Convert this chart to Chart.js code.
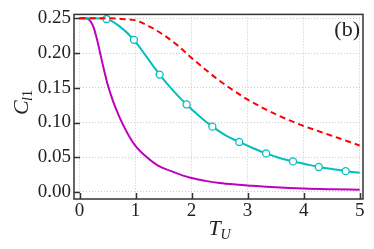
<!DOCTYPE html>
<html>
<head>
<meta charset="utf-8">
<script src="https://cdn.jsdelivr.net/npm/chart.js@4.4.1/dist/chart.umd.min.js"></script>
<style>
  html, body { margin: 0; padding: 0; background: #fff; }
  #wrap { width: 374px; height: 249px; }
</style>
</head>
<body>
<div id="wrap"><canvas id="chart"></canvas></div>
<script>
// values
const xTicks = [0, 1, 2, 3, 4, 5];
const yTicks = [0.00, 0.05, 0.10, 0.15, 0.20, 0.25];

const redX = [0, 0.5, 0.75, 1.0, 1.25, 1.5, 1.75, 2.0, 2.25, 2.5, 2.75, 3.0, 3.25, 3.5, 3.75, 4.0, 4.25, 4.5, 4.75, 5.0];
const redY = [0.25, 0.25, 0.249, 0.247, 0.238, 0.226, 0.211, 0.193, 0.176, 0.160, 0.146, 0.133, 0.122, 0.112, 0.103, 0.095, 0.088, 0.081, 0.074, 0.067];

const cyanX = [0, 0.25, 0.48, 0.72, 0.97, 1.2, 1.43, 1.67, 1.91, 2.14, 2.37, 2.6, 2.85, 3.1, 3.33, 3.57, 3.81, 4.04, 4.27, 4.5, 4.75, 5.0];
const cyanY = [0.25, 0.25, 0.249, 0.238, 0.219, 0.194, 0.169, 0.146, 0.126, 0.109, 0.094, 0.082, 0.072, 0.063, 0.0555, 0.049, 0.044, 0.040, 0.036, 0.033, 0.030, 0.0277];

const markX = [0.48, 0.97, 1.43, 1.91, 2.37, 2.85, 3.33, 3.81, 4.27, 4.75];
const markY = [0.249, 0.219, 0.169, 0.126, 0.094, 0.072, 0.0555, 0.044, 0.036, 0.030];

const magX = [0, 0.1, 0.15, 0.2, 0.25, 0.3, 0.35, 0.4, 0.45, 0.5, 0.6, 0.7, 0.8, 0.9, 1.0, 1.2, 1.4, 1.6, 1.8, 2.0, 2.25, 2.5, 2.75, 3.0, 3.5, 4.0, 4.5, 5.0];
const magY = [0.25, 0.25, 0.249, 0.245, 0.237, 0.223, 0.206, 0.188, 0.171, 0.155, 0.130, 0.110, 0.093, 0.078, 0.066, 0.050, 0.038, 0.031, 0.025, 0.020, 0.016, 0.013, 0.011, 0.0095, 0.0068, 0.005, 0.004, 0.0033];

const pts = (xs, ys) => xs.map((x, i) => ({ x: x, y: ys[i] }));

const serif = "'Liberation Serif', 'DejaVu Serif', serif";

// frame, inward ticks, axis titles and panel label
const decor = {
    id: "decor",
    afterDraw(chart) {
        const ctx = chart.ctx;
        const a = chart.chartArea;
        const xs = chart.scales.x, ys = chart.scales.y;
        ctx.save();
        ctx.strokeStyle = "#333";
        ctx.lineWidth = 1.5;
        // ticks
        ctx.beginPath();
        xTicks.forEach(v => {
            const px = Math.round(xs.getPixelForValue(v)) + 0.5;
            ctx.moveTo(px, a.bottom);
            ctx.lineTo(px, a.bottom - 6);
        });
        yTicks.forEach(v => {
            const py = Math.round(ys.getPixelForValue(v)) + 0.5;
            ctx.moveTo(a.left, py);
            ctx.lineTo(a.left + 6, py);
        });
        ctx.stroke();
        ctx.strokeRect(a.left, a.top, a.right - a.left, a.bottom - a.top);

        ctx.fillStyle = "#222";
        ctx.textBaseline = "alphabetic";
        // x title T_U
        ctx.textAlign = "left";
        ctx.font = "italic 22px " + serif;
        const cx = (a.left + a.right) / 2;
        ctx.fillText("T", cx - 10, 235);
        ctx.font = "italic 14px " + serif;
        ctx.fillText("U", cx + 2, 239);
        // y title C_l1
        ctx.translate(28, 101);
        ctx.rotate(-Math.PI / 2);
        ctx.font = "italic 22px " + serif;
        ctx.fillText("C", -14, 0);
        ctx.font = "italic 14px " + serif;
        ctx.fillText("l", 0, 4);
        ctx.font = "14px " + serif;
        ctx.fillText("1", 4, 4);
        ctx.restore();

        ctx.save();
        ctx.fillStyle = "#222";
        ctx.font = "22px " + serif;
        ctx.textAlign = "right";
        ctx.fillText("(b)", a.right - 3, 36);
        ctx.restore();
    }
};

new Chart(document.getElementById("chart"), {
    type: "line",
    data: {
        datasets: [
            {
                data: pts(redX, redY),
                borderColor: "#ff0000",
                borderWidth: 2,
                borderDash: [6, 4],
                pointRadius: 0,
                cubicInterpolationMode: "monotone",
                order: 0,
            },
            {
                data: pts(markX, markY),
                showLine: false,
                pointRadius: 3.5,
                pointBorderWidth: 1.3,
                pointBorderColor: "#00bfbf",
                pointBackgroundColor: "#ffffff",
                order: 1,
            },
            {
                data: pts(cyanX, cyanY),
                borderColor: "#00bfbf",
                borderWidth: 2,
                pointRadius: 0,
                cubicInterpolationMode: "monotone",
                order: 2,
            },
            {
                data: pts(magX, magY),
                borderColor: "#bf00bf",
                borderWidth: 2,
                pointRadius: 0,
                cubicInterpolationMode: "monotone",
                order: 3,
            },
        ],
    },
    options: {
        responsive: true,
        maintainAspectRatio: false,
        animation: false,
        layout: { padding: { left: 0, top: 7, right: 11, bottom: 0 } },
        plugins: { legend: { display: false }, tooltip: { enabled: false } },
        scales: {
            x: {
                type: "linear",
                min: -0.1,
                max: 5.06,
                afterBuildTicks: s => { s.ticks = xTicks.map(v => ({ value: v })); },
                afterFit: s => { s.height = 50; },
                ticks: {
                    color: "#222",
                    padding: 1,
                    maxRotation: 0,
                    font: { family: serif, size: 19 },
                    callback: v => String(v),
                },
                grid: { color: "#c8c8c8", lineWidth: 1, drawTicks: false },
                border: { display: false, dash: [1, 2] },
            },
            y: {
                min: -0.0101,
                max: 0.2556,
                afterBuildTicks: s => { s.ticks = yTicks.map(v => ({ value: v })); },
                afterFit: s => { s.width = 74; },
                ticks: {
                    color: "#222",
                    padding: 3,
                    font: { family: serif, size: 19 },
                    callback: v => v.toFixed(2),
                },
                grid: { color: "#c8c8c8", lineWidth: 1, drawTicks: false },
                border: { display: false, dash: [1, 2] },
            },
        },
    },
    plugins: [decor],
});
</script>
</body>
</html>
